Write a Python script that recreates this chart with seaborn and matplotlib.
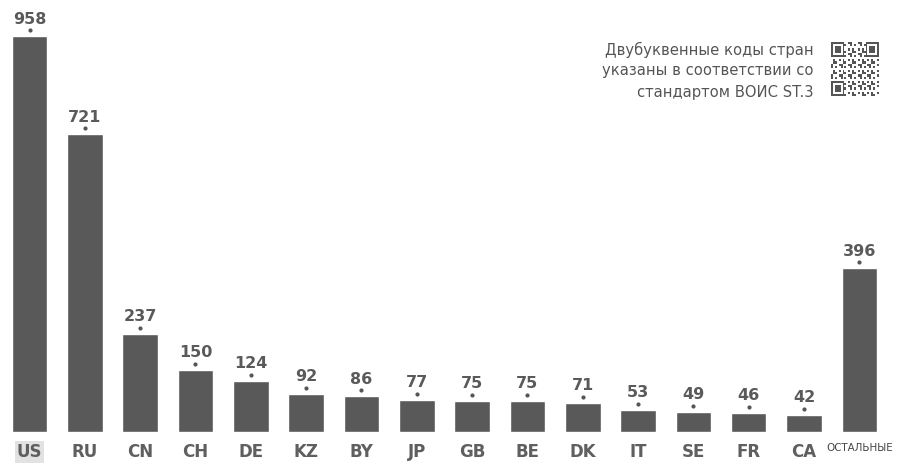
import numpy as np
import pandas as pd
import matplotlib
matplotlib.use("Agg")
import matplotlib.pyplot as plt
import matplotlib.transforms as mtransforms
import seaborn as sns

# Patent counts by applicant country (two-letter WIPO ST.3 codes)
countries = ["US", "RU", "CN", "CH", "DE", "KZ", "BY", "JP", "GB", "BE",
             "DK", "IT", "SE", "FR", "CA", "ОСТАЛЬНЫЕ"]
counts = [958, 721, 237, 150, 124, 92, 86, 77, 75, 75, 71, 53, 49, 46, 42, 396]

note_lines = ["Двубуквенные коды стран",
              "указаны в соответствии со",
              "стандартом ВОИС ST.3"]

sns.set_theme(style="white")
plt.rcParams["font.family"] = ["DejaVu Sans"]

W, H = 916, 463
fig = plt.figure(figsize=(W / 100, H / 100), dpi=100)

base_px = 31          # baseline distance from the bottom edge
px_per_unit = 0.413   # vertical scale
step = 55.33          # spacing between bar centres
first_c = 29.5        # centre of the first bar

ax = fig.add_axes([0, base_px / H, 1, (H - base_px) / H])
df = pd.DataFrame({"country": countries, "count": counts})
sns.barplot(data=df, x="country", y="count", color="#595959",
            saturation=1, width=0.64, ax=ax)

ax.set_xlim(-first_c / step, (W - first_c) / step)
ax.set_ylim(0, (H - base_px) / px_per_unit)
sns.despine(ax=ax, left=True, bottom=True)
ax.set_xlabel("")
ax.set_ylabel("")
ax.set_yticks([])
ax.tick_params(axis="x", length=0, pad=8)

# Category labels under the bars
ax.set_xticks(range(len(countries)))
ax.set_xticklabels(countries)
for i, lab in enumerate(ax.get_xticklabels()):
    lab.set_color("#5f5f5f")
    lab.set_fontweight("bold")
    if i == len(countries) - 1:
        lab.set_fontsize(7.4)
        lab.set_fontweight("normal")
        lab.set_color("#444444")
    else:
        lab.set_fontsize(12)
    if i == 0:
        lab.set_bbox(dict(facecolor="#e2e2e2", edgecolor="none", pad=1.2))

# Value labels with a small dot marker above each bar
dot_shift = ax.transData + mtransforms.ScaledTranslation(0, 6 / 100, fig.dpi_scale_trans)
for i, v in enumerate(counts):
    ax.plot([i], [v], marker="o", markersize=2.0, color="#555555",
            transform=dot_shift, clip_on=False, linestyle="none")
    ax.annotate(str(v), (i, v), xytext=(0, 7), textcoords="offset points",
                ha="center", va="bottom", fontsize=11.5, fontweight="bold",
                color="#5a5a5a")

# Note in the upper right corner
for k, line in enumerate(note_lines):
    fig.text(814 / W, 1 - (50 + 21 * k) / H, line, ha="right", va="center",
             fontsize=10.6, color="#555555")

# QR-style code block next to the note
qa = fig.add_axes([831 / W, 1 - 96 / H, 47 / W, 54 / H])
n = 25
grid = np.zeros((n, n))
for r in range(n):
    for c in range(n):
        grid[r, c] = 1 if ((r * 7 + c * 3 + r * c) % 5 in (0, 2)) else 0


def finder(g, r0, c0):
    g[r0:r0 + 7, c0:c0 + 7] = 1
    g[r0 + 1:r0 + 6, c0 + 1:c0 + 6] = 0
    g[r0 + 2:r0 + 5, c0 + 2:c0 + 5] = 1


finder(grid, 0, 0)
finder(grid, 0, n - 7)
finder(grid, n - 7, 0)
qa.imshow(grid, cmap=matplotlib.colors.ListedColormap(["white", "#555555"]),
          interpolation="nearest", aspect="auto")
qa.axis("off")

fig.savefig("out.png", dpi=100, facecolor="white")
